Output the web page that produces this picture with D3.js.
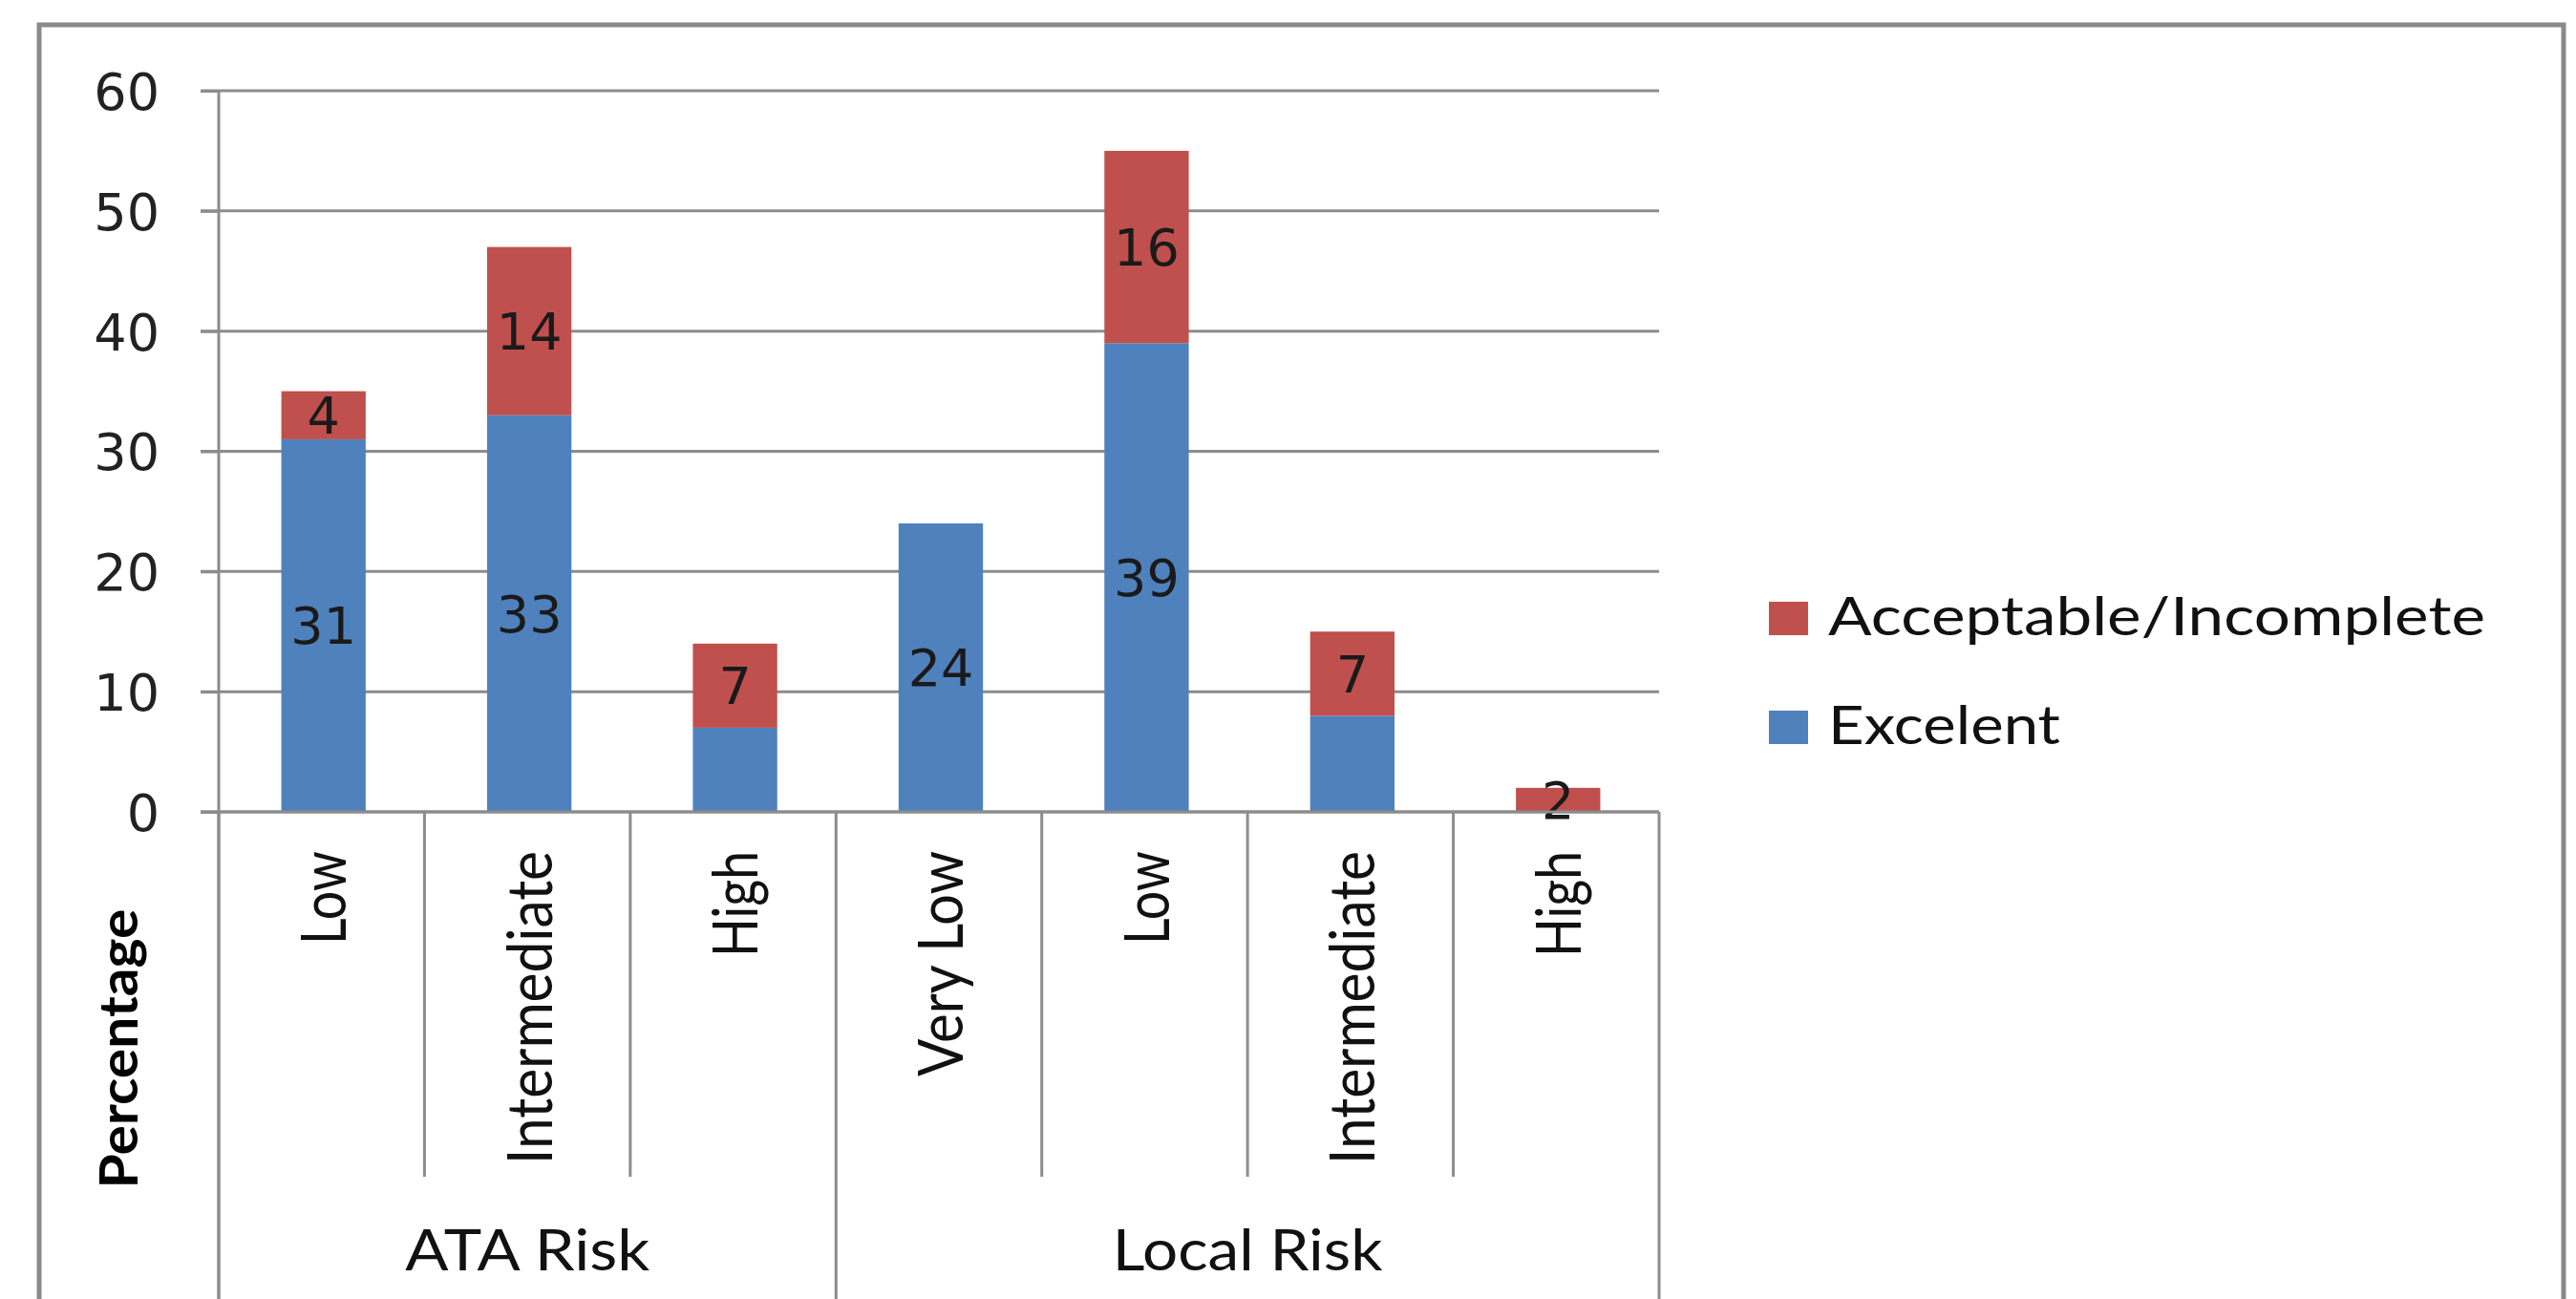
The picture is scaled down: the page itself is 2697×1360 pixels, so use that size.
<!DOCTYPE html>
<html>
<head>
<meta charset="utf-8">
<script src="https://cdn.jsdelivr.net/npm/d3@7/dist/d3.min.js"></script>
<style>
  html, body { margin: 0; padding: 0; background: #ffffff; }
  svg { display: block; }
</style>
</head>
<body>
<svg id="chart" width="2697" height="1360"></svg>
<script>
// ---- data ----
const categories = ["Low", "Intermediate", "High", "Very Low", "Low", "Intermediate", "High"];
const groups = ["ATA Risk", "ATA Risk", "ATA Risk", "Local Risk", "Local Risk", "Local Risk", "Local Risk"];
const groupNames = ["ATA Risk", "Local Risk"];
const excelent = [31, 33, 7, 24, 39, 8, 0];
const acceptable = [4, 14, 7, 0, 16, 7, 2];
const excelentLabels = [31, 33, null, 24, 39, null, null];
const acceptableLabels = [4, 14, 7, null, 16, 7, 2];
const seriesNames = ["Excelent", "Acceptable/Incomplete"];
const yTicks = [0, 10, 20, 30, 40, 50, 60];
const yTitle = "Percentage";

// ---- layout ----
const svg = d3.select("#chart");
const W = 2697, H = 1360;
const plotLeft = 229, plotRight = 1737, plotTop = 95, plotBottom = 850;
const gridColor = "#8c8c8c";
const colors = { "Excelent": "#4F81BD", "Acceptable/Incomplete": "#C0504D" };

const x = d3.scaleBand().domain(d3.range(categories.length)).range([plotLeft, plotRight]).padding(0);
const y = d3.scaleLinear().domain([0, 60]).range([plotBottom, plotTop]);
const barW = x.bandwidth() * 0.41;
const barShift = 2;

// outer frame (chart area border, bottom is cut off)
svg.append("path")
  .attr("d", `M41,${H + 20} V26 H2684 V${H + 20}`)
  .attr("fill", "none").attr("stroke", "#8a8a8a").attr("stroke-width", 5);

// gridlines
svg.append("g").selectAll("line").data(yTicks).join("line")
  .attr("x1", plotLeft - 19).attr("x2", plotRight)
  .attr("y1", d => y(d)).attr("y2", d => y(d))
  .attr("stroke", gridColor).attr("stroke-width", 3);

// y axis (labels)
const yAxis = d3.axisLeft(y).tickValues(yTicks).tickSize(19).tickPadding(43);
const yg = svg.append("g").attr("transform", `translate(${plotLeft},0)`).call(yAxis);
yg.select(".domain").remove();
yg.selectAll(".tick line").attr("stroke", gridColor).attr("stroke-width", 3);
yg.selectAll(".tick text")
  .attr("font-family", "'DejaVu Sans', Verdana, sans-serif")
  .attr("font-size", 54).attr("fill", "#222")
  .attr("dy", "0.36em");

// vertical axis line (continues through category area)
svg.append("line")
  .attr("x1", plotLeft).attr("x2", plotLeft)
  .attr("y1", plotTop).attr("y2", H)
  .attr("stroke", gridColor).attr("stroke-width", 3);

// category separators
const bounds = d3.range(categories.length + 1);
svg.append("g").selectAll("line").data(bounds).join("line")
  .attr("x1", i => i < categories.length ? x(i) : plotRight)
  .attr("x2", i => i < categories.length ? x(i) : plotRight)
  .attr("y1", plotBottom)
  .attr("y2", i => {
    const isGroupEdge = i === 0 || i === categories.length || groups[i] !== groups[i - 1];
    return isGroupEdge ? H : 1232;
  })
  .attr("stroke", gridColor).attr("stroke-width", 3);

// stacked bars
const stackData = categories.map((c, i) => ({ i, "Excelent": excelent[i], "Acceptable/Incomplete": acceptable[i] }));
const stack = d3.stack().keys(seriesNames)(stackData);
const barG = svg.append("g");
stack.forEach(layer => {
  barG.append("g").attr("fill", colors[layer.key])
    .selectAll("rect").data(layer).join("rect")
    .attr("x", d => x(d.data.i) + (x.bandwidth() - barW) / 2 + barShift)
    .attr("width", barW)
    .attr("y", d => y(d[1]))
    .attr("height", d => y(d[0]) - y(d[1]));
});

// data labels
const labelSets = { "Excelent": excelentLabels, "Acceptable/Incomplete": acceptableLabels };
stack.forEach(layer => {
  const labs = labelSets[layer.key];
  svg.append("g").selectAll("text").data(layer.filter(d => labs[d.data.i] != null)).join("text")
    .attr("x", d => x(d.data.i) + x.bandwidth() / 2 + barShift)
    .attr("y", d => y((d[0] + d[1]) / 2))
    .attr("dy", "0.36em")
    .attr("text-anchor", "middle")
    .attr("font-family", "'DejaVu Sans', Verdana, sans-serif")
    .attr("font-size", 54).attr("fill", "#1a1a1a")
    .text(d => labs[d.data.i]);
});

// x axis line
svg.append("line")
  .attr("x1", plotLeft - 19).attr("x2", plotRight)
  .attr("y1", plotBottom).attr("y2", plotBottom)
  .attr("stroke", gridColor).attr("stroke-width", 3);

// rotated category labels
const catLen = [98, 328, 111, 236, 98, 328, 111];
svg.append("g").selectAll("text").data(categories).join("text")
  .attr("transform", (d, i) => `translate(${x(i) + x.bandwidth() / 2 + 2},891) rotate(-90) scale(1,1.12)`)
  .attr("text-anchor", "end")
  .attr("dy", "0.36em")
  .attr("font-family", "Lato, 'Open Sans', sans-serif")
  .attr("font-size", 58).attr("fill", "#111")
  .attr("textLength", (d, i) => catLen[i]).attr("lengthAdjust", "spacingAndGlyphs")
  .text(d => d);

// group labels
const groupLen = { "ATA Risk": 256, "Local Risk": 283 };
svg.append("g").selectAll("text").data(groupNames).join("text")
  .attr("x", g => {
    const idx = d3.range(categories.length).filter(i => groups[i] === g);
    return (x(idx[0]) + x(idx[idx.length - 1]) + x.bandwidth()) / 2;
  })
  .attr("y", 1330)
  .attr("text-anchor", "middle")
  .attr("font-family", "Lato, 'Open Sans', sans-serif")
  .attr("font-size", 60).attr("fill", "#111")
  .attr("textLength", g => groupLen[g]).attr("lengthAdjust", "spacingAndGlyphs")
  .text(g => g);

// y axis title
svg.append("text")
  .attr("transform", "translate(124,1098) rotate(-90) scale(1,1.12)")
  .attr("text-anchor", "middle")
  .attr("dy", "0.36em")
  .attr("font-family", "Lato, 'Open Sans', sans-serif")
  .attr("font-weight", "bold")
  .attr("font-size", 50).attr("fill", "#000")
  .attr("textLength", 293).attr("lengthAdjust", "spacingAndGlyphs")
  .text(yTitle);

// legend (reverse order like the reference)
const legendItems = ["Acceptable/Incomplete", "Excelent"];
const legendLen = { "Acceptable/Incomplete": 688, "Excelent": 243 };
const legendY = { "Acceptable/Incomplete": 665, "Excelent": 779 };
const lg = svg.append("g");
lg.selectAll("rect").data(legendItems).join("rect")
  .attr("x", 1852).attr("y", d => legendY[d] - 35)
  .attr("width", 41).attr("height", 35)
  .attr("fill", d => colors[d]);
lg.selectAll("text").data(legendItems).join("text")
  .attr("x", 1914).attr("y", d => legendY[d])
  .attr("font-family", "Lato, 'Open Sans', sans-serif")
  .attr("font-size", 56).attr("fill", "#111")
  .attr("textLength", d => legendLen[d]).attr("lengthAdjust", "spacingAndGlyphs")
  .text(d => d);
</script>
</body>
</html>
